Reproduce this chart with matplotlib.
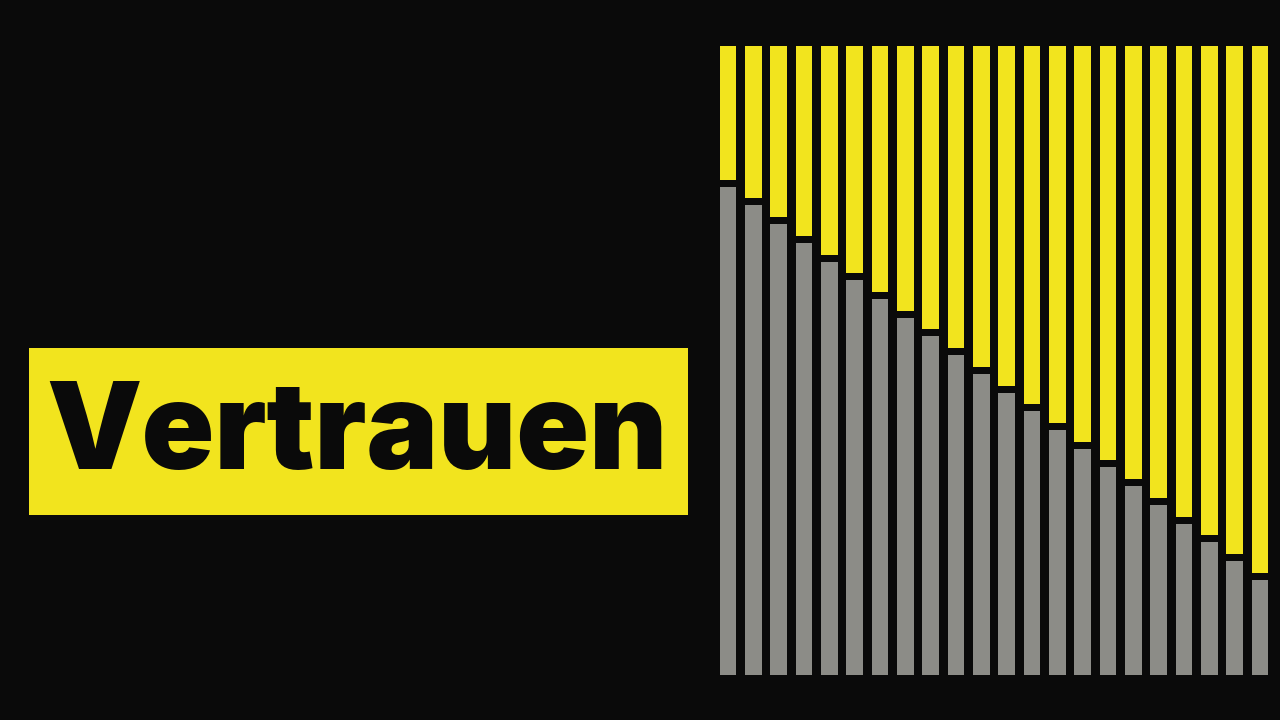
import numpy as np
import matplotlib
matplotlib.use("Agg")
import matplotlib.pyplot as plt

# share of grey per bar (in %), yellow fills the rest up to 100
grey = [77.6, 74.7, 71.7, 68.7, 65.7, 62.8, 59.8, 56.8, 53.9, 50.9, 47.9,
        44.8, 42.0, 39.0, 35.9, 33.1, 30.0, 27.0, 24.0, 21.1, 18.1, 15.1]
total = 100
title = "Vertrauen"

bg = "#0a0a0a"
yellow = "#f2e41e"
grau = "#8c8c87"
gap = 1.1  # black gap between grey and yellow

fig = plt.figure(figsize=(12.8, 7.2), dpi=100, facecolor=bg)

# title box
fig.patches.append(plt.Rectangle((29 / 1280, 1 - 515 / 720), (688 - 29) / 1280, (515 - 348) / 720,
                                 transform=fig.transFigure, facecolor=yellow, edgecolor="none"))
fig.text(46 / 1280, 1 - 469 / 720, title, color=bg, fontsize=86.5, fontfamily="Inter",
         fontweight="black", ha="left", va="baseline")

# bars
n = len(grey)
pitch = (1252 - 720) / (n - 1)
ax = fig.add_axes([(728 - pitch / 2) / 1280, 45 / 720, n * pitch / 1280, 629 / 720])
ax.set_facecolor(bg)
x = np.arange(n)
g = np.array(grey)
ax.bar(x, g, width=16.5 / pitch, color=grau)
ax.bar(x, total - g - gap, bottom=g + gap, width=16.5 / pitch, color=yellow)
ax.set_xlim(-0.5, n - 0.5)
ax.set_ylim(0, total)
ax.axis("off")

fig.savefig("out.png", dpi=100, facecolor=bg)
